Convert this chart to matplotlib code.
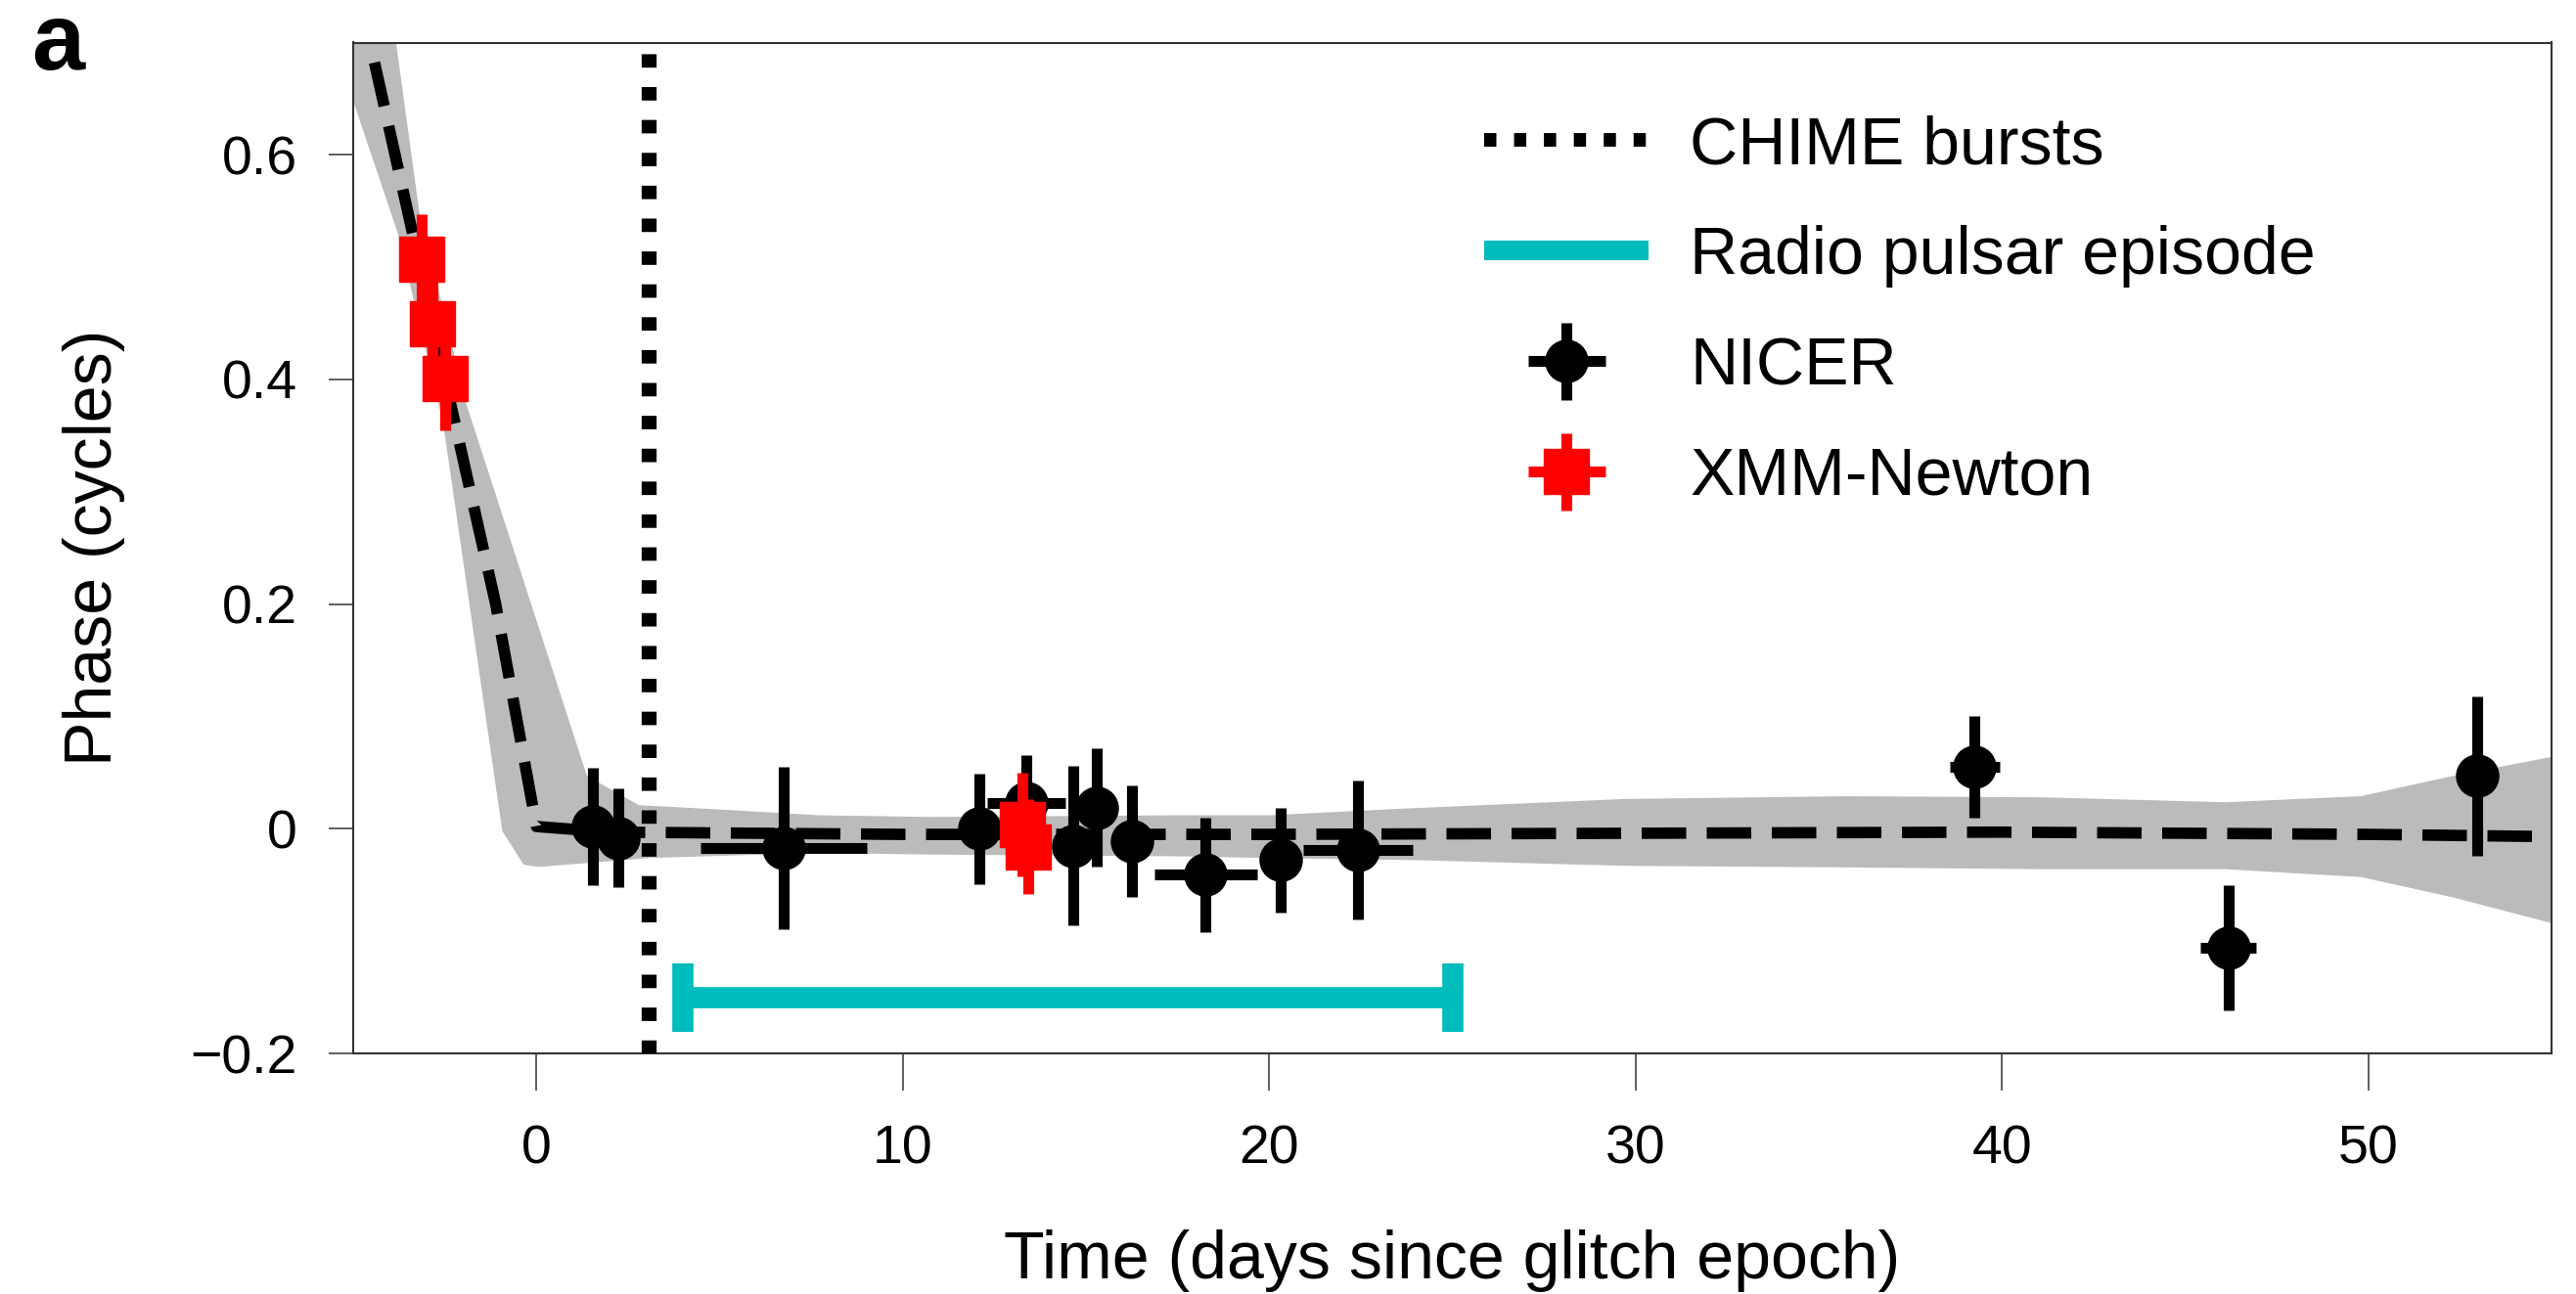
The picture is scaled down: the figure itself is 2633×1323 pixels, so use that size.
import numpy as np
import matplotlib
matplotlib.use("Agg")
import matplotlib.pyplot as plt
from matplotlib.lines import Line2D
from matplotlib.legend_handler import HandlerErrorbar
from matplotlib.container import ErrorbarContainer

plt.rcParams['font.family'] = ['Liberation Sans', 'DejaVu Sans']

# ---------------- data ----------------
# NICER timing residuals
nicer_t = [1.53, 2.24, 6.75, 12.1, 13.38, 14.65, 15.3, 16.26, 18.27, 20.31, 22.42, 39.25, 46.18, 52.97]
nicer_phase = [0.002, -0.008, -0.017, 0.0, 0.023, -0.015, 0.019, -0.011, -0.041, -0.028, -0.019, 0.055, -0.106, 0.047]
nicer_yerr = [0.052, 0.044, 0.072, 0.049, 0.043, 0.071, 0.053, 0.050, 0.051, 0.047, 0.062, 0.045, 0.056, 0.071]
nicer_xerr = [0.3, 0.3, 2.26, 0.4, 1.07, 0.4, 0.4, 0.4, 1.4, 0.4, 1.5, 0.68, 0.76, 0.4]

# XMM-Newton timing residuals
xmm_t = [-3.14, -2.85, -2.50, 13.26, 13.43]
xmm_phase = [0.507, 0.450, 0.401, 0.004, -0.016]
xmm_yerr = [0.040, 0.040, 0.046, 0.046, 0.042]
xmm_xerr = [0.3, 0.3, 0.3, 0.3, 0.3]

# best-fit timing model (dashed)
fit_t = [-5.0, -4.54, -2.49, -1.11, 0.0, 2.0, 10.0, 20.0, 30.0, 40.0, 50.0, 55.0]
fit_phase = [0.77, 0.70, 0.40, 0.20, 0.002, -0.003, -0.005, -0.005, -0.004, -0.003, -0.005, -0.007]

# envelope of model realisations (grey band)
band_up_t = [-5.0, -3.83, -3.2, -1.91, 1.38, 2.8, 5.1, 7.7, 10.8, 17.4, 20.0, 23.5, 29.7, 35.8, 41.1, 46.1, 49.8, 52.3, 55.0]
band_up = [0.95, 0.70, 0.55, 0.378, 0.047, 0.021, 0.017, 0.012, 0.0105, 0.012, 0.012, 0.0177, 0.0265, 0.029, 0.028, 0.0236, 0.029, 0.047, 0.064]
band_lo_t = [-5.0, -3.78, -2.54, -0.93, -0.35, 0.05, 3.1, 7.7, 10.8, 17.4, 20.0, 24.1, 29.7, 35.8, 41.1, 46.1, 49.8, 52.3, 55.0]
band_lo = [0.648, 0.53, 0.36, -0.002, -0.032, -0.034, -0.026, -0.0215, -0.023, -0.0245, -0.026, -0.028, -0.033, -0.0344, -0.036, -0.036, -0.043, -0.061, -0.084]

chime_t = 3.07
episode_start, episode_end, episode_level = 4.0, 25.0, -0.15

xticks = [0, 10, 20, 30, 40, 50]
yticks = [-0.2, 0.0, 0.2, 0.4, 0.6]
ytick_labels = ['\u22120.2', '0', '0.2', '0.4', '0.6']

# ---------------- figure ----------------
W, H = 2633, 1323
fig = plt.figure(figsize=(W / 100, H / 100), dpi=100)
L, R, T, B = 361, 2608, 43.5, 1077
ax = fig.add_axes([L / W, 1 - B / H, (R - L) / W, (B - T) / H])

cyan = '#00bcbc'

ax.fill(np.r_[band_up_t, band_lo_t[::-1]], np.r_[band_up, band_lo[::-1]],
        color='#bbbbbb', lw=0, zorder=1)
ax.plot(fit_t, fit_phase, color='k', lw=8.4, dashes=(3.9, 1.8), zorder=2)
ax.axvline(chime_t, color='k', lw=11, dashes=(0.9, 1.3), zorder=3)
ax.errorbar([(episode_start + episode_end) / 2], [episode_level],
            xerr=[(episode_end - episode_start) / 2], fmt='none', ecolor=cyan,
            elinewidth=15.6, capsize=25, capthick=15.6, zorder=3)

nicer = ax.errorbar(nicer_t, nicer_phase, yerr=nicer_yerr, xerr=nicer_xerr, fmt='o',
                    color='k', ms=31, elinewidth=8, capsize=0, zorder=5)
xmm = ax.errorbar(xmm_t, xmm_phase, yerr=xmm_yerr, xerr=xmm_xerr, fmt='s',
                  color='red', ms=33, elinewidth=8, capsize=0, zorder=6)

ax.set_xlim(-5, 55)
ax.set_ylim(-0.2, 0.7)
ax.set_xticks(xticks)
ax.set_yticks(yticks)
ax.set_yticklabels(ytick_labels)
ax.tick_params(axis='x', direction='out', length=27, width=1.1, pad=25, labelsize=40, color='#333333')
ax.tick_params(axis='y', direction='out', length=18, width=1.1, pad=23, labelsize=40, color='#333333')
for s in ax.spines.values():
    s.set_linewidth(1.5)
    s.set_color('#333333')

ax.set_xlabel('Time (days since glitch epoch)', fontsize=49, labelpad=40)
ax.set_ylabel('Phase (cycles)', fontsize=49, labelpad=48)

handles = [Line2D([], [], color='k', lw=10, dashes=(0.9, 1.3)),
           Line2D([], [], color=cyan, lw=14.5, solid_capstyle='butt'),
           nicer, xmm]
labels = ['CHIME bursts', 'Radio pulsar episode', 'NICER', 'XMM-Newton']
ax.legend(handles, labels, loc='upper left', bbox_to_anchor=(1517 / W, 1 - 117 / H),
          bbox_transform=fig.transFigure, frameon=False, fontsize=49,
          handlelength=168 / 68, handletextpad=42 / 68, labelspacing=0.72,
          borderpad=0, borderaxespad=0,
          handler_map={ErrorbarContainer: HandlerErrorbar(xerr_size=0.58)})

fig.text(32 / W, 1 - 71 / H, 'a', fontsize=70, fontweight='bold', va='baseline', ha='left')

fig.savefig('out.png', dpi=100)
